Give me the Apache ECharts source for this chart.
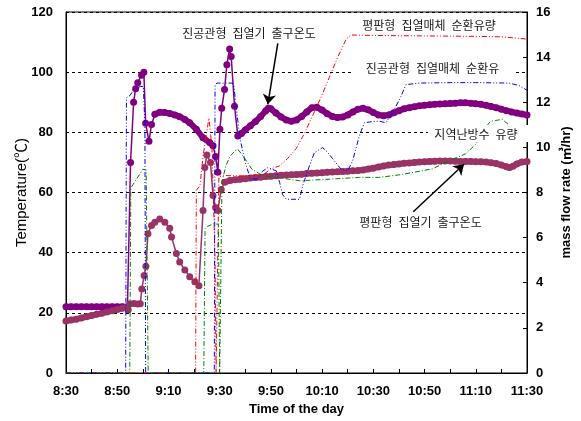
<!DOCTYPE html>
<html>
<head>
<meta charset="utf-8">
<script src="https://cdn.jsdelivr.net/npm/echarts/dist/echarts.min.js"></script>
<style>
  html, body { margin: 0; padding: 0; background: #fff; }
  #chart { width: 581px; height: 421px; }
</style>
</head>
<body>
<div id="chart"></div>
<script>
// Time is given in minutes after 8:30; temperatures in °C, flow rates in m³/hr.

const xTickLabels = ['8:30', '8:50', '9:10', '9:30', '9:50', '10:10', '10:30', '10:50', '11:10', '11:30'];

// 진공관형 집열기 출구온도 (°C)
const vacuumOutletTemp = [
  [0, 22], [2, 22], [4, 22], [6, 22], [8, 22], [10, 22], [12, 22], [14, 22], [16, 22], [18, 22], [20, 22], [22, 22], [24, 22],
  [25.2, 70], [26.4, 90], [27.2, 94.5], [28, 96.5], [29.5, 99], [30.4, 100], [31.1, 83], [32.4, 77], [33.4, 82.6],
  [34.7, 86], [36.6, 86.7], [38.5, 86.6], [40.5, 86.3], [42.5, 85.8], [44.4, 85.2], [46.4, 84.3], [48.3, 83.2],
  [50.9, 81], [53.5, 78.2], [56.1, 76.6], [57.4, 75.5],
  [58.4, 72], [59.3, 66.7], [60.1, 81], [60.8, 88], [61.9, 94.2], [62.8, 102.5], [63.9, 107.7], [64.5, 105.2], [65.8, 88.7], [67.1, 78.8],
  [68.5, 79.6], [70, 80.8], [72, 82.2], [74, 83.6], [76, 85.3], [78, 87.2], [79, 88], [80, 87.8], [82, 86.4], [84, 85.1],
  [86, 84.1], [88, 83.7], [90, 84.1], [92, 85.3], [94, 86.8], [96, 88.2], [98, 88.3], [100, 87.4], [102, 86.2], [104, 85.3],
  [106, 84.9], [108, 85.1], [110, 85.8], [112, 86.8], [114, 87.7], [116, 88], [118, 87.5], [120, 86.6], [122, 85.8], [124, 85.5],
  [126, 85.8], [128, 86.5], [130, 87.2], [132, 87.8], [134, 88.2], [136, 88.5], [138, 88.8], [140, 89], [142, 89.2], [144, 89.3],
  [146, 89.4], [148, 89.5], [150, 89.6], [152, 89.7], [154, 89.8], [156, 89.8], [158, 89.7], [160, 89.5], [162, 89.3], [164, 89],
  [166, 88.6], [168, 88.2], [170, 87.7], [172, 87.2], [174, 86.8], [176, 86.4], [178, 86.1], [180, 85.8]
];

// 평판형 집열기 출구온도 (°C)
const flatOutletTemp = [
  [0, 17.3], [2, 17.6], [4, 17.9], [6, 18.3], [8, 18.7], [10, 19.1], [12, 19.5], [14, 19.9], [16, 20.3], [18, 20.7],
  [20, 21.1], [22, 21.5], [23.5, 21.8], [24.3, 21], [25, 23], [26.5, 23.1], [28, 22.9], [29, 23],
  [29.6, 27.9], [30.5, 32.4], [31.2, 35.5], [32, 46.3], [33.4, 49], [34.7, 50.1], [36.6, 51.2], [38.6, 50.1], [40.5, 48.1],
  [41.2, 45.2], [43.1, 39.7], [44.4, 36.9], [46.4, 34.2], [48.3, 32], [50.3, 30.3], [51.9, 29],
  [53.5, 54], [54.2, 68.3], [55, 72.5], [56.4, 70], [57.4, 59], [58.4, 55], [59.3, 54], [60.6, 61], [62, 63.4],
  [64, 64], [66, 64.2], [68, 64.4], [70, 64.6], [72, 64.8], [74, 65], [76, 65.1], [78, 65.3], [80, 65.4], [82, 65.6],
  [84, 65.7], [86, 65.8], [88, 65.9], [90, 66], [92, 66.1], [94, 66.3], [96, 66.4], [98, 66.5], [100, 66.6], [102, 66.7],
  [104, 66.8], [106, 66.9], [108, 67], [110, 67.1], [112, 67.2], [114, 67.3], [116, 67.5], [118, 67.8], [120, 68.1], [122, 68.5],
  [124, 68.8], [126, 69.1], [128, 69.3], [130, 69.5], [132, 69.7], [134, 69.8], [136, 70], [138, 70.1], [140, 70.2], [142, 70.3],
  [144, 70.4], [146, 70.5], [148, 70.5], [150, 70.5], [152, 70.4], [154, 70.3], [156, 70.3], [158, 70.3], [160, 70.2], [162, 70.2],
  [164, 70.1], [166, 69.9], [168, 69.6], [170, 69.1], [172, 68.6], [173.2, 68.3], [174.5, 68.7], [176, 69.5], [178, 70.1], [180, 70.3]
];

// 평판형 집열매체 순환유량 (m³/hr)
const flatLoopFlow = [
  [0, 0], [50.6, 0], [50.9, 8.1], [52.3, 8.3], [53.5, 9.6], [55.8, 11.3], [57, 10], [58.2, 5], [58.6, 0], [59.3, 0],
  [59.7, 8.7], [62, 8.75], [66, 8.74], [70, 8.74], [74, 8.74], [77, 8.78], [80, 9.05], [83.4, 9.18], [86.5, 9.5],
  [89.9, 9.95], [93, 10.6], [96.3, 11.4], [99.5, 12.2], [102.8, 13.1], [106.1, 14], [109.4, 14.8], [111.3, 14.98],
  [120, 14.96], [130, 14.95], [140, 14.94], [150, 14.93], [160, 14.92], [170, 14.9], [180, 14.8]
];

// 진공관형 집열매체 순환유량 (m³/hr)
const vacuumLoopFlow = [
  [0, 0], [23.3, 0], [23.6, 12.2], [25, 12.3], [26.5, 12.56], [29, 12.7], [30.2, 12.7], [30.8, 11], [31.1, 0],
  [57.9, 0], [58.2, 12.78], [59, 12.85], [65, 12.85], [65.6, 12.7], [66.4, 11.8], [68, 10.36], [70, 9.33], [72, 8.6],
  [74.9, 8.6], [76.8, 8.95], [78.8, 9.1], [82.1, 8.96], [83.4, 8.45], [84.6, 7.9], [86, 7.7], [91.2, 7.7], [92.4, 8.3],
  [95.1, 9.2], [97, 9.77], [100.2, 9.99], [102, 9.8], [104.1, 9.5], [107.4, 9.03], [110, 8.96], [111.9, 9.4], [114.5, 10.5],
  [116.5, 11.09], [120, 11.15], [122.3, 11.16], [124.9, 11.09], [128.2, 11.68], [130.8, 12.26], [132.7, 12.78], [137.9, 12.85],
  [150, 12.87], [160, 12.87], [173, 12.85], [176.9, 12.74], [180, 12.53]
];

// 지역난방수 유량 (m³/hr)
const districtHeatingFlow = [
  [0, 0], [24.9, 0], [25.3, 8.2], [27, 8.5], [30, 9.03], [31.3, 9], [32.1, 0], [53.8, 0], [54.3, 6.4], [55.3, 6.5],
  [57.3, 6.6], [59.5, 6.6], [60, 0], [60.6, 0], [60.9, 8.5], [62.5, 9.2], [64, 9.6], [66, 9.85], [67.1, 9.92], [70, 9.48],
  [72.6, 9.03], [76.9, 8.74], [83.4, 8.65], [91.2, 8.52], [102.8, 8.59], [114.5, 8.67], [122.3, 8.67], [130, 8.78],
  [136, 8.9], [143.1, 9.05], [149.6, 9.4], [156.1, 9.72], [160, 10.14], [163.2, 10.8], [165.8, 11.16], [170.4, 11.24],
  [174.9, 10.8], [178, 10.5], [180, 10.4]
];

// Stretches (minutes) where the logged temperature points sit so close that they merge into a solid band
const vacuumBandSpans = [[0, 24], [34.7, 57.4], [67.1, 180]];
const flatBandSpans = [[0, 23.5], [62, 180]];

const NUM_FONT = "'Liberation Sans', Arial, 'Noto Sans CJK KR', sans-serif";
const KR_FONT = "'Noto Sans CJK KR', 'Noto Sans', sans-serif";
const PURPLE = '#800080';
const PLUM = '#993366';
const SP = '\u2002';

const chart = echarts.init(document.getElementById('chart'));

const arrowStyle = {
  silent: true,
  symbol: ['none', 'arrow'],
  symbolSize: 10,
  label: { show: false },
  emphasis: { disabled: true },
  lineStyle: { color: '#000', width: 1.5, type: 'solid' }
};

function kr(text, x, y) {
  return {
    type: 'text', x: x, y: y, z: 110,
    style: { text: text, font: '12px ' + KR_FONT, fill: '#1a1a1a', align: 'center', verticalAlign: 'middle' }
  };
}

// Solid band drawn under the markers for the densely sampled stretches
function bandSeries(points, spans, color, width) {
  return spans.map(([a, b]) => ({
    type: 'line', yAxisIndex: 0, silent: true, symbol: 'none', z: 2,
    data: points.filter(p => p[0] >= a && p[0] <= b),
    lineStyle: { color: color, width: width, cap: 'round', join: 'round' }
  }));
}

chart.setOption({
  animation: false,
  backgroundColor: '#fff',
  grid: { left: 66, right: 52, top: 12, bottom: 46, show: true, borderColor: '#000', borderWidth: 1 },
  xAxis: {
    type: 'value', min: 0, max: 180, interval: 10,
    name: 'Time of the day', nameLocation: 'middle', nameGap: 30, nameMoveOverlap: false,
    nameTextStyle: { fontFamily: NUM_FONT, fontSize: 13, fontWeight: 'bold', color: '#000' },
    axisLine: { lineStyle: { color: '#000', width: 1 } },
    axisTick: { inside: true, length: 4, lineStyle: { color: '#000' } },
    axisLabel: {
      margin: 12, fontFamily: NUM_FONT, fontSize: 13, fontWeight: 'bold', color: '#000',
      formatter: v => (v % 20 === 0 ? xTickLabels[v / 20] : '')
    },
    splitLine: { show: false }
  },
  yAxis: [
    {
      type: 'value', min: 0, max: 120, interval: 20, position: 'left',
      name: 'Temperature(℃)', nameLocation: 'middle', nameRotate: 90, nameGap: 37, nameMoveOverlap: false,
      nameTextStyle: { fontFamily: NUM_FONT, fontSize: 15, color: '#000' },
      axisLine: { show: true, lineStyle: { color: '#000', width: 1 } },
      axisTick: { show: true, inside: true, length: 3, lineStyle: { color: '#000' } },
      axisLabel: { margin: 13, fontFamily: NUM_FONT, fontSize: 13, fontWeight: 'bold', color: '#000' },
      splitLine: { show: true, lineStyle: { color: '#000', width: 1, type: [3, 3] } }
    },
    {
      type: 'value', min: 0, max: 16, interval: 2, position: 'right',
      name: 'mass flow rate (㎥/hr)', nameLocation: 'middle', nameRotate: 90, nameGap: 33, nameMoveOverlap: false,
      nameTextStyle: { fontFamily: NUM_FONT, fontSize: 13, fontWeight: 'bold', color: '#000' },
      axisLine: { show: true, lineStyle: { color: '#000', width: 1 } },
      axisTick: { show: true, inside: true, length: 4, lineStyle: { color: '#000' } },
      axisLabel: { margin: 9, fontFamily: NUM_FONT, fontSize: 13, fontWeight: 'bold', color: '#000' },
      splitLine: { show: false }
    }
  ],
  series: [
    ...bandSeries(vacuumOutletTemp, vacuumBandSpans, PURPLE, 6),
    ...bandSeries(flatOutletTemp, flatBandSpans, PLUM, 6),
    {
      type: 'line', name: '진공관형 집열기 출구온도', yAxisIndex: 0, data: vacuumOutletTemp,
      symbol: 'circle', symbolSize: 7, showAllSymbol: true,
      lineStyle: { color: PURPLE, width: 1.5 }, itemStyle: { color: PURPLE },
      z: 3,
      markLine: Object.assign({}, arrowStyle, { data: [[{ coord: [82.7, 109.6] }, { coord: [78.8, 89.3] }]] })
    },
    {
      type: 'line', name: '평판형 집열기 출구온도', yAxisIndex: 0, data: flatOutletTemp,
      symbol: 'circle', symbolSize: 7, showAllSymbol: true,
      lineStyle: { color: PLUM, width: 1.5 }, itemStyle: { color: PLUM },
      z: 3,
      markLine: Object.assign({}, arrowStyle, { data: [[{ coord: [135.6, 53.6] }, { coord: [155.4, 69.4] }]] })
    },
    {
      type: 'line', name: '평판형 집열매체 순환유량', yAxisIndex: 1, data: flatLoopFlow,
      symbol: 'none', lineStyle: { color: '#ff0000', width: 1, type: [5, 2, 1, 2, 1, 2] }, z: 4
    },
    {
      type: 'line', name: '진공관형 집열매체 순환유량', yAxisIndex: 1, data: vacuumLoopFlow,
      symbol: 'none', lineStyle: { color: '#0000ff', width: 1, type: [5, 2, 1, 2, 1, 2] }, z: 4
    },
    {
      type: 'line', name: '지역난방수 유량', yAxisIndex: 1, data: districtHeatingFlow,
      symbol: 'none', lineStyle: { color: '#008000', width: 1, type: [5, 2, 1, 2] }, z: 4
    }
  ],
  graphic: [
    { type: 'rect', z: 100, shape: { x: 352, y: 60, width: 161, height: 16 }, style: { fill: '#fff' } },
    { type: 'rect', z: 100, shape: { x: 428, y: 125, width: 100, height: 17 }, style: { fill: '#fff' } },
    kr('진공관형' + SP + '집열기' + SP + '출구온도', 249, 33),
    kr('평판형' + SP + '집열매체' + SP + '순환유량', 429, 25.5),
    kr('진공관형' + SP + '집열매체' + SP + '순환유', 432.5, 68.5),
    kr('지역난방수' + SP + '유량', 476, 134),
    kr('평판형' + SP + '집열기' + SP + '출구온도', 420.5, 222)
  ]
});
</script>
</body>
</html>
